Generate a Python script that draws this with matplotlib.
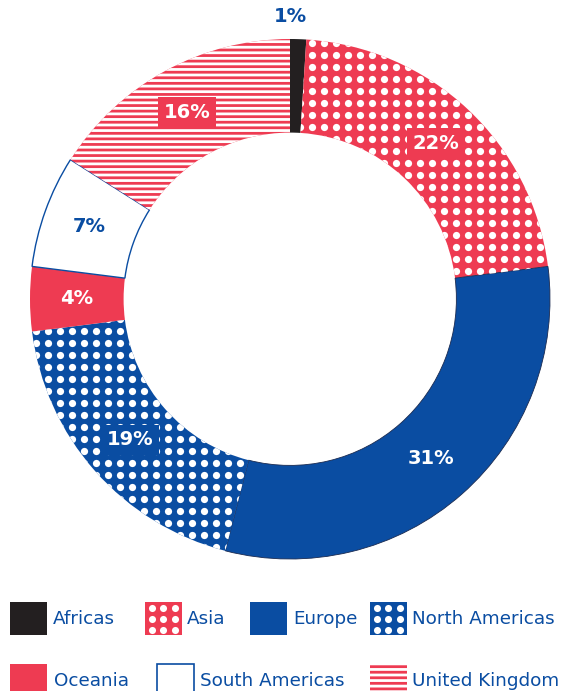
import numpy as np
import matplotlib.pyplot as plt
from matplotlib.patches import Rectangle

# data
regions = ["Africas", "Asia", "Europe", "North Americas",
           "Oceania", "South Americas", "United Kingdom"]
shares = [1, 22, 31, 19, 4, 7, 16]

RED = "#EE3B52"
BLUE = "#0A4DA2"
BLACK = "#231F20"

face = [BLACK, RED, BLUE, BLUE, RED, "white", RED]
style = ["solid", "dots", "solid", "dots", "solid", "outline", "stripes"]

plt.rcParams["hatch.linewidth"] = 2.0

fig = plt.figure(figsize=(5.61, 6.91), dpi=100)
W, H = 561, 691
ax = fig.add_axes([30 / W, 132 / H, 520 / W, 520 / H])

wedges, _ = ax.pie(shares, startangle=90, counterclock=False, radius=1,
                   colors=face, wedgeprops=dict(width=0.36, linewidth=0))
ax.set_xlim(-1, 1)
ax.set_ylim(-1, 1)
ax.set_aspect("equal")
ax.axis("off")

# dot grid for patterned wedges
step = 12 / 260
gx, gy = np.meshgrid(np.arange(-1, 1.01, step), np.arange(-1, 1.01, step))
for w, st in zip(wedges, style):
    if st == "dots":
        sc = ax.scatter(gx.ravel() + step / 2, gy.ravel(), s=27, color="white",
                        linewidths=0, zorder=3)
        sc.set_clip_path(w)
    elif st == "stripes":
        w.set_hatch("---")
        w.set_edgecolor("white")
    elif st == "outline":
        w.set_edgecolor(BLUE)
        w.set_linewidth(1.0)
    elif st == "solid" and w.get_facecolor()[2] > 0.5:
        w.set_edgecolor("#1a2a50")
        w.set_linewidth(0.6)

# percentage labels
for w, v, st, fc in zip(wedges, shares, style, face):
    ang = np.deg2rad((w.theta1 + w.theta2) / 2)
    if v == 1:
        ax.text(0, 1.085, f"{v}%", ha="center", va="center", fontsize=14,
                fontweight="bold", color=BLUE, clip_on=False)
        continue
    r = 0.82
    col = BLUE if st == "outline" else "white"
    kw = {}
    if st in ("stripes", "dots"):
        kw["bbox"] = dict(boxstyle="square,pad=0.3", fc=fc, ec="none")
    ax.text(r * np.cos(ang), r * np.sin(ang), f"{v}%", ha="center",
            va="center", fontsize=14, fontweight="bold", color=col, zorder=5, **kw)

# legend drawn by hand in pixel coordinates
lax = fig.add_axes([0, 0, 1, 130 / H])
lax.set_xlim(0, W)
lax.set_ylim(130, 0)
lax.axis("off")

leg_x = [10, 145, 250, 370, 10, 157, 370]
leg_tx = [53, 187, 293, 412, 54, 200, 412]
leg_y = [41, 41, 41, 41, 103, 103, 103]
sw, sh = 37, 33
for i, name in enumerate(regions):
    x0, y0 = leg_x[i], leg_y[i]
    st = style[i]
    if st == "outline":
        rect = Rectangle((x0, y0), sw, sh, fc="white", ec=BLUE, lw=1.2)
    else:
        rect = Rectangle((x0, y0), sw, sh, fc=face[i], ec="none", lw=0)
    if st == "stripes":
        rect.set_hatch("---")
        rect.set_edgecolor("white")
    lax.add_patch(rect)
    if st == "dots":
        dx = np.array([x0 + 7, x0 + sw / 2, x0 + sw - 7])
        dy = np.array([y0 + 5.5, y0 + sh / 2, y0 + sh - 5.5])
        mx, my = np.meshgrid(dx, dy)
        lax.scatter(mx.ravel(), my.ravel(), s=26, color="white", linewidths=0, zorder=3)
    lax.text(leg_tx[i], y0 + sh / 2 + 1, name, ha="left", va="center",
             fontsize=13.2, color=BLUE)

fig.savefig("out.png", dpi=100)
